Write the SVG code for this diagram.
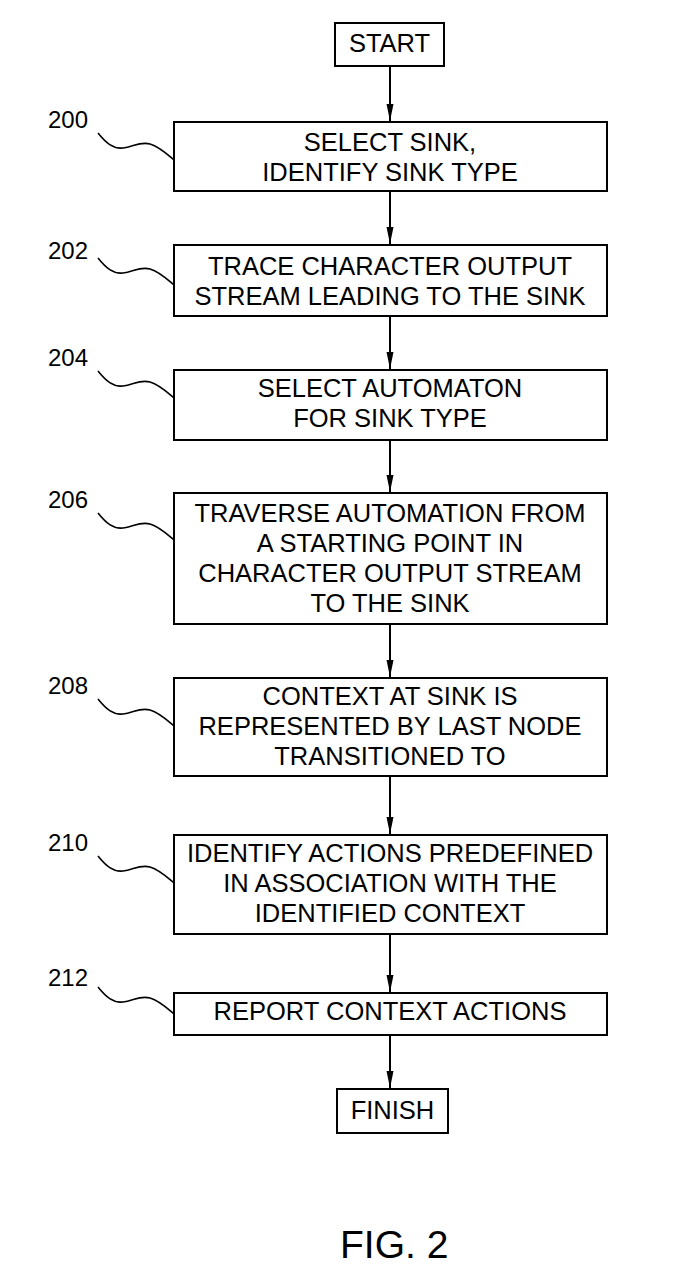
<svg xmlns="http://www.w3.org/2000/svg" width="683" height="1276" viewBox="0 0 683 1276">
<style>
.box{fill:#fff;stroke:#000;stroke-width:2}
.t{font-family:"Liberation Sans",Arial,sans-serif;font-size:25.5px;fill:#000;text-anchor:middle}
.lbl{font-family:"Liberation Sans",Arial,sans-serif;font-size:24px;fill:#000}
.sq{fill:none;stroke:#000;stroke-width:1.6}
.c{stroke:#000;stroke-width:2;fill:none;marker-end:url(#ah)}
.fig{font-family:"Liberation Sans",Arial,sans-serif;font-size:39px;fill:#000}
</style>
<defs>
<marker id="ah" markerWidth="18" markerHeight="8" refX="17" refY="4" orient="auto" markerUnits="userSpaceOnUse" viewBox="0 0 18 8">
<path d="M0,0.5 L17,4 L0,7.5 Z" fill="#000"/>
</marker>
<path id="sq" d="M0,0 C8,10 15,16 25,15 C35,14 42,8 52,11 C62,14 70,22 76,27"/>
</defs>
<rect width="683" height="1276" fill="#fff"/>
<g id="connectors">
<line class="c" x1="390" y1="66" x2="390" y2="121"/>
<line class="c" x1="390" y1="191" x2="390" y2="244"/>
<line class="c" x1="390" y1="316" x2="390" y2="369"/>
<line class="c" x1="390" y1="440" x2="390" y2="492"/>
<line class="c" x1="390" y1="624" x2="390" y2="677"/>
<line class="c" x1="390" y1="776" x2="390" y2="834"/>
<line class="c" x1="390" y1="934" x2="390" y2="992"/>
<line class="c" x1="390" y1="1035" x2="390" y2="1088"/>
</g>
<g id="start">
<rect class="box" x="335" y="23" width="109" height="43"/>
<text class="t" x="389.5" y="52">START</text>
</g>
<g id="n200">
<rect class="box" x="174" y="122" width="433" height="69"/>
<text class="t" x="390" y="151">SELECT SINK,</text>
<text class="t" x="390" y="181">IDENTIFY SINK TYPE</text>
<text class="lbl" x="48" y="128">200</text>
<use href="#sq" class="sq" x="98" y="133"/>
</g>
<g id="n202">
<rect class="box" x="174" y="245" width="433" height="71"/>
<text class="t" x="390" y="275">TRACE CHARACTER OUTPUT</text>
<text class="t" x="390" y="305">STREAM LEADING TO THE SINK</text>
<text class="lbl" x="48" y="259">202</text>
<use href="#sq" class="sq" x="98" y="258"/>
</g>
<g id="n204">
<rect class="box" x="174" y="370" width="433" height="70"/>
<text class="t" x="390" y="397">SELECT AUTOMATON</text>
<text class="t" x="390" y="427">FOR SINK TYPE</text>
<text class="lbl" x="48" y="366">204</text>
<use href="#sq" class="sq" x="98" y="371"/>
</g>
<g id="n206">
<rect class="box" x="174" y="493" width="433" height="131"/>
<text class="t" x="390" y="522">TRAVERSE AUTOMATION FROM</text>
<text class="t" x="390" y="552">A STARTING POINT IN</text>
<text class="t" x="390" y="582">CHARACTER OUTPUT STREAM</text>
<text class="t" x="390" y="612">TO THE SINK</text>
<text class="lbl" x="48" y="508">206</text>
<use href="#sq" class="sq" x="98" y="513"/>
</g>
<g id="n208">
<rect class="box" x="174" y="678" width="433" height="98"/>
<text class="t" x="390" y="705">CONTEXT AT SINK IS</text>
<text class="t" x="390" y="735">REPRESENTED BY LAST NODE</text>
<text class="t" x="390" y="765">TRANSITIONED TO</text>
<text class="lbl" x="48" y="694">208</text>
<use href="#sq" class="sq" x="98" y="699"/>
</g>
<g id="n210">
<rect class="box" x="174" y="835" width="433" height="99"/>
<text class="t" x="390" y="862">IDENTIFY ACTIONS PREDEFINED</text>
<text class="t" x="390" y="892">IN ASSOCIATION WITH THE</text>
<text class="t" x="390" y="922">IDENTIFIED CONTEXT</text>
<text class="lbl" x="48" y="851">210</text>
<use href="#sq" class="sq" x="98" y="856"/>
</g>
<g id="n212">
<rect class="box" x="174" y="993" width="433" height="42"/>
<text class="t" x="390" y="1020">REPORT CONTEXT ACTIONS</text>
<text class="lbl" x="48" y="986">212</text>
<use href="#sq" class="sq" x="98" y="987"/>
</g>
<g id="finish">
<rect class="box" x="337" y="1089" width="111" height="44"/>
<text class="t" x="392.5" y="1119">FINISH</text>
</g>
<text class="fig" x="340" y="1258">FIG. 2</text>
</svg>
